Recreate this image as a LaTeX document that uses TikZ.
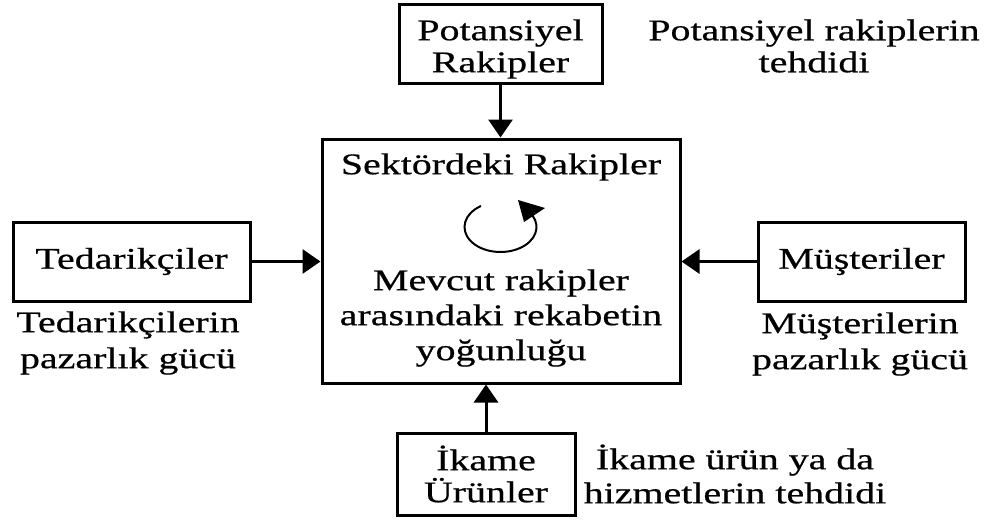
\documentclass[tikz,border=0pt]{standalone}
\usepackage{fontspec}
\setmainfont{Liberation Serif}[FakeStretch=1.33,FakeBold=0.6]
\usetikzlibrary{arrows.meta,calc}
\newcommand\figfont{\fontsize{30}{32}\selectfont}
\begin{document}
\begin{tikzpicture}[x=1pt,y=-1pt,
  box/.style={draw, line width=3pt, inner sep=0pt, align=center, font=\figfont},
  txt/.style={inner sep=0pt, align=center, font=\figfont},
  force/.style={line width=3pt, -{Triangle[length=18pt,width=24pt]}},
  cycle/.style={line width=2pt}]
  % canvas
  \fill[white] (0,0) rectangle (990,520);
  \useasboundingbox (0,0) rectangle (990,520);

  % the five forces
  \node[box, minimum width=203pt, minimum height=79pt] (pot) at (500.5,43.5) {};
  \node[txt] (pott) at (500.5,49) {Potansiyel\\Rakipler};
  \node[box, minimum width=358pt, minimum height=244pt] (main) at (501,261) {};
  \node[box, minimum width=237pt, minimum height=79pt] (ted) at (131.5,261.5) {Tedarikçiler};
  \node[box, minimum width=207pt, minimum height=79pt] (mus) at (861.5,261.5) {Müşteriler};
  \node[box, minimum width=178pt, minimum height=82pt] (ika) at (486,474) {İkame\\Ürünler};

  % contents of the central box
  \node[txt] (sek) at (501,167) {Sektördeki Rakipler};
  \node[txt] (mev) at (501,318) {Mevcut rakipler\\[3pt]arasındaki rekabetin\\[3pt]yoğunluğu};
  % rivalry loop
  \coordinate (cyc) at (500.5,227);
  \coordinate (tip) at (518,200);
  \coordinate (tipl) at (524,222);
  \coordinate (tipr) at (545,208);
  \draw[cycle] ($(cyc)+(-123:36 and 25)$) arc[start angle=-123, end angle=-387, x radius=36, y radius=25];
  \fill (tip) -- (tipl) -- (tipr) -- cycle;

  % captions
  \node[txt] (potl) at (814,46) {Potansiyel rakiplerin\\tehdidi};
  \node[txt] (tedl) at (128,343) {Tedarikçilerin\\[4pt]pazarlık gücü};
  \node[txt] (musl) at (860,344) {Müşterilerin\\[4pt]pazarlık gücü};
  \node[txt] (ikal) at (735,474) {İkame ürün ya da\\[2pt]hizmetlerin tehdidi};

  % arrows into the industry box
  \draw[force] (pot.south) -- (pot.south |- main.north);
  \draw[force] (ika.north) -- (ika.north |- main.south);
  \draw[force] (ted.east) -- (ted.east -| main.west);
  \draw[force] (mus.west) -- (mus.west -| main.east);
\end{tikzpicture}
\end{document}
